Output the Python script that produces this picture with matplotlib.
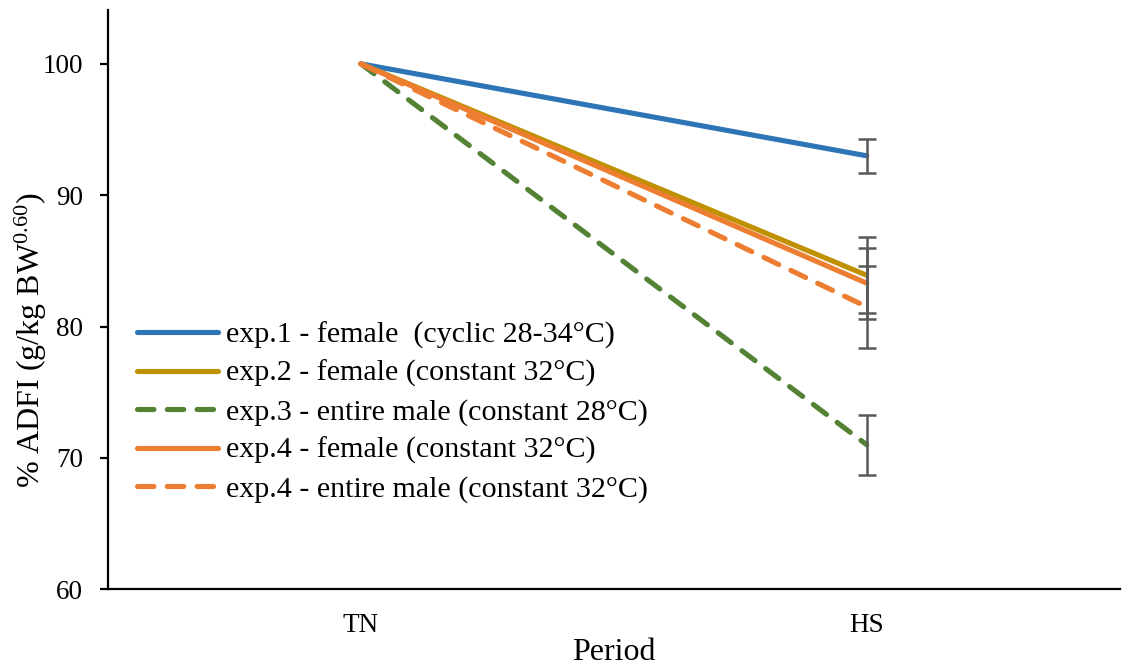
import matplotlib
matplotlib.use("Agg")
import matplotlib.pyplot as plt

plt.rcParams['font.family'] = ['Liberation Serif', 'DejaVu Serif']
plt.rcParams['mathtext.fontset'] = 'custom'
plt.rcParams['mathtext.rm'] = 'Liberation Serif'
plt.rcParams['mathtext.it'] = 'Liberation Serif:italic'

# data
periods = ["TN", "HS"]
labels = [
    "exp.1 - female  (cyclic 28-34°C)",
    "exp.2 - female (constant 32°C)",
    "exp.3 - entire male (constant 28°C)",
    "exp.4 - female (constant 32°C)",
    "exp.4 - entire male (constant 32°C)",
]
tn_values = [100, 100, 100, 100, 100]
hs_values = [93.0, 83.9, 71.0, 83.3, 81.5]
hs_errors = [1.3, 2.9, 2.3, 2.7, 3.1]

colors = ["#2E75B6", "#BF9000", "#548235", "#ED7D31", "#ED7D31"]
styles = ["solid", "solid", "dashed", "solid", "dashed"]

fig = plt.figure(figsize=(11.29, 6.68), dpi=100)
ax = fig.add_axes([0.0957, 0.118, 0.896, 0.867])

x = [0, 1]
lw = 3.7
for i in range(len(labels)):
    ls = (0, (3.2, 2.6)) if styles[i] == "dashed" else "-"
    ax.plot(x, [tn_values[i], hs_values[i]], color=colors[i], lw=lw,
            linestyle=ls, dash_capstyle='round', solid_capstyle='round',
            label=labels[i], zorder=3)

# error bars at HS
for i in range(len(labels)):
    ax.errorbar(1, hs_values[i], yerr=hs_errors[i], fmt='none',
                ecolor="#595959", elinewidth=1.8, capsize=6.5, capthick=1.8,
                zorder=4)

ax.set_xlim(-0.5, 1.5)
ax.set_ylim(60, 104.1)
ax.set_xticks(x)
ax.set_xticklabels(periods)
ax.set_yticks([60, 70, 80, 90, 100])

ax.spines['top'].set_visible(False)
ax.spines['right'].set_visible(False)
ax.spines['left'].set_linewidth(1.6)
ax.spines['bottom'].set_linewidth(1.6)
ax.tick_params(axis='y', direction='out', length=6, width=1.6, labelsize=19.5,
               pad=12)
ax.tick_params(axis='x', length=0, labelsize=19.5, pad=17)

ax.set_xlabel("Period", fontsize=23, labelpad=0)
ax.set_ylabel(r"% ADFI (g/kg BW$^{0.60}$)", fontsize=23)
ax.yaxis.set_label_coords(-0.058, 0.43)

leg = ax.legend(loc='upper left', bbox_to_anchor=(0.017, 0.4825), frameon=False,
                fontsize=21.6, handlelength=2.7, handletextpad=0.25,
                labelspacing=0.37, borderaxespad=0)

fig.savefig("out.png", dpi=100)
